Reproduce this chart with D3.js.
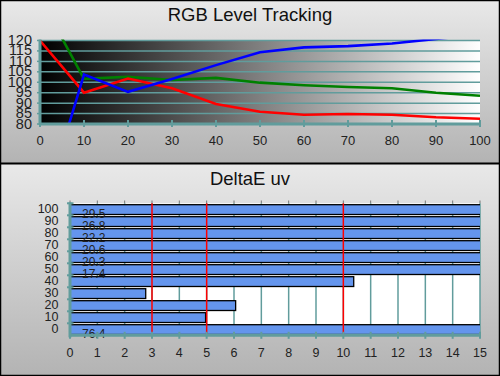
<!DOCTYPE html>
<html>
<head>
<meta charset="utf-8">
<script src="https://d3js.org/d3.v7.min.js"></script>
<style>
  body { margin: 0; background: #fff; }
  svg { display: block; font-family: "Liberation Sans", Arial, sans-serif; }
</style>
</head>
<body>
<svg id="chart" width="500" height="376"></svg>
<script>
// RGB level tracking (stimulus % -> level %)
levels = [0, 10, 20, 30, 40, 50, 60, 70, 80, 90, 100];
redLevels = [120, 95, 101.8, 97.1, 89.6, 85.9, 84.4, 84.8, 84.4, 83.2, 82.5];
greenLevels = [140.6, 101.6, 102.6, 101.1, 102.1, 99.8, 98.6, 97.7, 97.1, 95, 93.5];
blueLevels = [34, 103.7, 95.4, 101.6, 108.2, 114.4, 116.7, 117.3, 118.6, 120.7, 123];
levelTicks = [80, 85, 90, 95, 100, 105, 110, 115, 120];

// DeltaE uv per grey step
steps = ["100", "90", "80", "70", "60", "50", "40", "30", "20", "10", "0"];
deltaE = [29.5, 26.8, 22.2, 20.6, 20.3, 17.4, 10.38, 2.77, 6.06, 4.96, 76.4];
deltaTicks = d3.range(0, 16);
limitLines = [3, 5, 10];

let svg = d3.select("#chart");
let teal = "#619c9c";
let defs = svg.append("defs");

function vGrad(id, c1, c2) {
    let g = defs.append("linearGradient").attr("id", id)
        .attr("x1", 0).attr("y1", 0).attr("x2", 0).attr("y2", 1);
    g.append("stop").attr("offset", 0).attr("stop-color", c1);
    g.append("stop").attr("offset", 1).attr("stop-color", c2);
}
vGrad("panelTop", "#e9e9e9", "#b3b3b3");
vGrad("panelBot", "#e9e9e9", "#b3b3b3");
let hg = defs.append("linearGradient").attr("id", "plotGrad")
    .attr("x1", 0).attr("y1", 0).attr("x2", 1).attr("y2", 0);
hg.append("stop").attr("offset", 0).attr("stop-color", "#000");
hg.append("stop").attr("offset", 1).attr("stop-color", "#fff");

/* PANELS */
svg.append("rect").attr("x", 0).attr("y", 0).attr("width", 500).attr("height", 163)
    .attr("fill", "url(#panelTop)");
svg.append("rect").attr("x", 0).attr("y", 163).attr("width", 500).attr("height", 213)
    .attr("fill", "url(#panelBot)");

/* TOP CHART */
let x1 = d3.scaleLinear().domain([0, 100]).range([40, 480]);
let y1 = d3.scaleLinear().domain([80, 120]).range([124, 40.5]);

svg.append("text").attr("x", 250).attr("y", 20.5).attr("text-anchor", "middle")
    .attr("font-size", 18.5).attr("fill", "#111").text("RGB Level Tracking");

svg.append("rect").attr("x", x1(0)).attr("y", y1(120))
    .attr("width", x1(100) - x1(0)).attr("height", y1(80) - y1(120))
    .attr("fill", "url(#plotGrad)");

defs.append("clipPath").attr("id", "topClip").append("rect")
    .attr("x", x1(0)).attr("y", y1(120) - 1)
    .attr("width", x1(100) - x1(0)).attr("height", y1(80) - y1(120) + 1);

svg.append("g").selectAll("line").data(levelTicks).enter().append("line")
    .attr("x1", x1(0)).attr("x2", x1(100))
    .attr("y1", d => y1(d)).attr("y2", d => y1(d))
    .attr("stroke", teal).attr("stroke-width", 1.5);

let line = d3.line().x((d, i) => x1(levels[i])).y(d => y1(d));
let lines = svg.append("g").attr("clip-path", "url(#topClip)");
[[greenLevels, "#008000"], [redLevels, "#ff0000"], [blueLevels, "#0000ff"]].forEach(function (s) {
    lines.append("path").attr("d", line(s[0])).attr("fill", "none")
        .attr("stroke", s[1]).attr("stroke-width", 2.6);
});

// axes
svg.append("line").attr("x1", x1(0)).attr("x2", x1(100)).attr("y1", y1(80)).attr("y2", y1(80))
    .attr("stroke", teal).attr("stroke-width", 3);
svg.append("line").attr("x1", x1(0)).attr("x2", x1(0)).attr("y1", y1(120) - 1).attr("y2", y1(80) + 1)
    .attr("stroke", teal).attr("stroke-width", 3);
svg.append("g").selectAll("line").data(levels).enter().append("line")
    .attr("x1", d => x1(d)).attr("x2", d => x1(d))
    .attr("y1", y1(80) - 4).attr("y2", y1(80) + 3)
    .attr("stroke", teal).attr("stroke-width", 2);
svg.append("g").selectAll("line").data(levelTicks).enter().append("line")
    .attr("x1", x1(0) - 3).attr("x2", x1(0))
    .attr("y1", d => y1(d)).attr("y2", d => y1(d))
    .attr("stroke", teal).attr("stroke-width", 1.5);
svg.append("g").selectAll("text").data(levelTicks).enter().append("text")
    .attr("x", 32).attr("y", d => y1(d) + 4.5).attr("text-anchor", "end")
    .attr("font-size", 14.5).attr("fill", "#222").text(d => d);
svg.append("g").selectAll("text").data(levels).enter().append("text")
    .attr("x", d => x1(d)).attr("y", 144.5).attr("text-anchor", "middle")
    .attr("font-size", 13).attr("fill", "#222").text(d => d);

/* BOTTOM CHART */
let x2 = d3.scaleLinear().domain([0, 15]).range([70, 480]);
let y2 = d3.scaleBand().domain(steps).range([203.3, 335.3]);

svg.append("text").attr("x", 250).attr("y", 184.5).attr("text-anchor", "middle")
    .attr("font-size", 18.5).attr("fill", "#111").text("DeltaE uv");

svg.append("rect").attr("x", x2(0)).attr("y", y2.range()[0])
    .attr("width", x2(15) - x2(0)).attr("height", y2.range()[1] - y2.range()[0])
    .attr("fill", "#fff");

// top ticks & grid
svg.append("g").selectAll("line").data(deltaTicks).enter().append("line")
    .attr("x1", d => x2(d)).attr("x2", d => x2(d))
    .attr("y1", 200.5).attr("y2", 203.3)
    .attr("stroke", "#777").attr("stroke-width", 1);
svg.append("g").selectAll("line").data(deltaTicks.slice(1)).enter().append("line")
    .attr("x1", d => x2(d)).attr("x2", d => x2(d))
    .attr("y1", y2.range()[0]).attr("y2", y2.range()[1])
    .attr("stroke", teal).attr("stroke-width", 1.5);

defs.append("clipPath").attr("id", "botClip").append("rect")
    .attr("x", x2(0) - 2).attr("y", 190)
    .attr("width", x2(15) - x2(0) + 2).attr("height", 160);

let bars = svg.append("g").attr("clip-path", "url(#botClip)");
bars.selectAll("rect").data(deltaE).enter().append("rect")
    .attr("x", x2(0))
    .attr("y", (d, i) => y2(steps[i]) + 1.4)
    .attr("width", d => x2(Math.min(d, 15.5)) - x2(0))
    .attr("height", y2.bandwidth() - 2.2)
    .attr("fill", "#6495ed").attr("stroke", "#000").attr("stroke-width", 1.3);

// values shown only for bars running off the scale
svg.append("g").selectAll("text").data(deltaE.map((d, i) => ({v: d, s: steps[i]})).filter(d => d.v > 15))
    .enter().append("text")
    .attr("x", x2(0) + 12).attr("y", d => y2(d.s) + 14.2)
    .attr("font-size", 12).attr("fill", "#222").text(d => d.v.toFixed(1));

svg.append("g").selectAll("line").data(limitLines).enter().append("line")
    .attr("x1", d => x2(d)).attr("x2", d => x2(d))
    .attr("y1", y2.range()[0]).attr("y2", y2.range()[1])
    .attr("stroke", "#ff0000").attr("stroke-width", 1.5);

// axes
svg.append("line").attr("x1", x2(0)).attr("x2", x2(15)).attr("y1", y2.range()[1]).attr("y2", y2.range()[1])
    .attr("stroke", teal).attr("stroke-width", 3);
svg.append("line").attr("x1", x2(0)).attr("x2", x2(0)).attr("y1", y2.range()[0] - 1).attr("y2", y2.range()[1] + 2)
    .attr("stroke", teal).attr("stroke-width", 3);
svg.append("g").selectAll("line").data(deltaTicks).enter().append("line")
    .attr("x1", d => x2(d)).attr("x2", d => x2(d))
    .attr("y1", y2.range()[1] - 3.5).attr("y2", y2.range()[1] + 3.5)
    .attr("stroke", teal).attr("stroke-width", 2);
svg.append("g").selectAll("line").data(steps).enter().append("line")
    .attr("x1", x2(0) - 3).attr("x2", x2(0) + 3.5)
    .attr("y1", d => y2(d)).attr("y2", d => y2(d))
    .attr("stroke", teal).attr("stroke-width", 2);
svg.append("g").selectAll("text").data(steps).enter().append("text")
    .attr("x", 58.5).attr("y", d => y2(d) + y2.bandwidth() / 2 + 4)
    .attr("text-anchor", "end").attr("font-size", 12.5).attr("fill", "#222").text(d => d);
svg.append("g").selectAll("text").data(deltaTicks).enter().append("text")
    .attr("x", d => x2(d)).attr("y", 357).attr("text-anchor", "middle")
    .attr("font-size", 12.5).attr("fill", "#222").text(d => d);

/* BORDERS */
svg.append("line").attr("x1", 0).attr("x2", 500).attr("y1", 163.5).attr("y2", 163.5)
    .attr("stroke", "#000").attr("stroke-width", 2);
svg.append("rect").attr("x", 0.5).attr("y", 0.5).attr("width", 499).attr("height", 375)
    .attr("fill", "none").attr("stroke", "#000").attr("stroke-width", 1.5);
</script>
</body>
</html>
